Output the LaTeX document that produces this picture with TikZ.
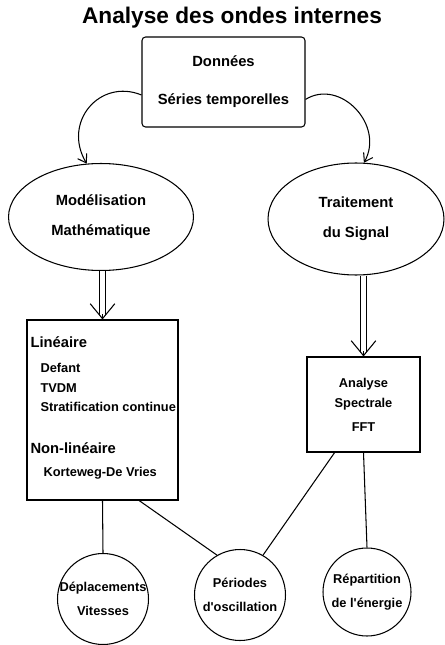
\documentclass[tikz,border=0pt]{standalone}
\usepackage{fontspec}
\setmainfont{Liberation Sans}
\usetikzlibrary{positioning,arrows.meta,shapes.geometric}

\begin{document}
\begin{tikzpicture}[x=0.02cm, y=-0.02cm, line width=0.6pt,
    txt/.style={font=\fontsize{8.4}{10}\selectfont\bfseries, align=center},
    small/.style={font=\fontsize{7.3}{9}\selectfont\bfseries, align=center},
    databox/.style={draw, rounded corners=2pt, txt, minimum width=3.26cm, minimum height=1.8cm, inner sep=0pt},
    oval/.style={draw, ellipse, txt, inner sep=0pt},
    rectbox/.style={draw, small, inner sep=0pt},
    disc/.style={draw, circle, minimum size=1.82cm, inner sep=0pt},
    head/.style={txt, anchor=west, inner sep=0pt},
    item/.style={small, anchor=west, inner sep=0pt},
    flow/.style={-{Straight Barb[length=4.5pt,width=6pt]}},
    dbl/.style={double, double distance=3pt, line width=0.6pt, shorten >=2.5pt},
    tip/.style={line width=0.6pt, -{Straight Barb[length=8.5pt,width=14pt]}},
  ]
  \useasboundingbox (0,0) rectangle (444,645);

  % Title
  \node[font=\fontsize{12.9}{15}\selectfont\bfseries] (title) at (232,18) {Analyse des ondes internes};

  % Data
  \node[databox] (data) at (223.5,82) {Données\\[11.5pt]Séries temporelles};

  % Two branches
  \node[oval, minimum width=3.7cm, minimum height=2.14cm] (model) at (101,217) {Modélisation\\[7pt]Mathématique};
  \node[oval, minimum width=3.52cm, minimum height=2.24cm] (signal) at (356,219) {Traitement\\[7pt]du Signal};
  \draw[flow] (data.189) .. controls (100,78) and (62,122) .. (model.105);
  \draw[flow] (data.-12) .. controls (340,78) and (385,125) .. (signal.82);

  % Models
  \node[rectbox, minimum width=3.02cm, minimum height=3.6cm] (lbox) at (102.5,410) {};
  \node[head] (lin) at (30,342) {Linéaire};
  \node[item] (defant) at (40,368) {Defant};
  \node[item] (tvdm) at (40,388) {TVDM};
  \node[item] (strat) at (40,407) {Stratification continue};
  \node[head] (nonlin) at (30,448) {Non-linéaire};
  \node[item] (kdv) at (43,473) {Korteweg-De Vries};
  \draw[dbl] (model.south -| lbox.north) -- (lbox.north);
  \draw[tip] ([yshift=3pt]lbox.north) -- (lbox.north);

  % Spectral analysis
  \node[rectbox, minimum width=2.26cm, minimum height=1.9cm] (rbox) at (363.5,404.5) {Analyse\\[2.5pt]Spectrale\\[4.7pt]FFT};
  \draw[dbl] (signal.south -| rbox.north) -- (rbox.north);
  \draw[tip] ([yshift=3pt]rbox.north) -- (rbox.north);

  % Results
  \node[disc] (depl) at (103,599) {};
  \node[small] at (depl) {Déplacements\\[4.7pt]Vitesses};
  \node[disc] (period) at (240,595) {};
  \node[small] at (period) {Périodes\\[4.7pt]d\textquotesingle oscillation};
  \node[disc, minimum size=1.76cm] (energy) at (367,592) {};
  \node[small] at (energy) {Répartition\\[4.7pt]de l\textquotesingle énergie};

  \draw (lbox.south) -- (depl.north);
  \draw (lbox.-68) -- (period.120);
  \draw (rbox.239) -- (period.60);
  \draw (rbox.south) -- (energy.north);
\end{tikzpicture}
\end{document}
